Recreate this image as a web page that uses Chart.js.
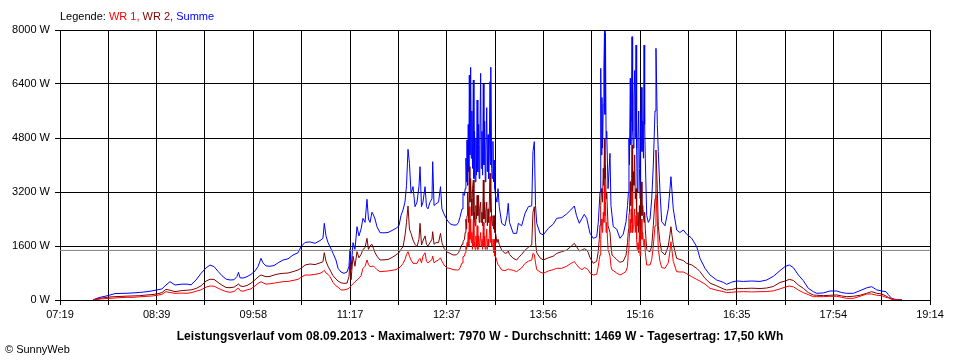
<!DOCTYPE html>
<html><head><meta charset="utf-8">
<script src="https://cdn.jsdelivr.net/npm/chart.js@4/dist/chart.umd.min.js"></script>
<style>
html,body{margin:0;padding:0;background:#fff;}
#wrap{position:relative;width:960px;height:360px;font-family:"Liberation Sans",Arial,sans-serif;font-size:11px;line-height:13px;color:#000;overflow:hidden;}
canvas{position:absolute;left:0;top:0;}
.t{position:absolute;white-space:nowrap;}
</style></head><body>
<div id="wrap">
<canvas id="c" width="960" height="360"></canvas>
<div class="t" style="left:60px;top:10px">Legende: <span style="color:#ff0000">WR 1, </span><span style="color:#800000">WR 2, </span><span style="color:#0000ff">Summe</span></div>
<div class="t" style="left:0;width:960px;text-align:center;top:330px;font-weight:bold;font-size:12px;letter-spacing:0.1px">Leistungsverlauf vom 08.09.2013 - Maximalwert: 7970 W - Durchschnitt: 1469 W - Tagesertrag: 17,50 kWh</div>
<div class="t" style="left:5px;top:343px">© SunnyWeb</div>
</div>
<script>
// x axis range (minutes since midnight) and labels
const xMin = 439, xMax = 1154;
const xTickLabels = ['07:19','08:39','09:58','11:17','12:37','13:56','15:16','16:35','17:54','19:14'];
const yTicksMax = 8000, yStep = 1600;
const average = 1469;

// sample times (minutes since midnight)
const times = [
466.1,468.6,471.9,476.0,480.1,484.2,488.3,494.1,499.0,504.7,510.5,514.6,518.7,522.8,526.1,529.4,533.5,539.3,543.4,546.7,550.8,554.9,559.0,562.3,565.6,568.9,572.1,575.4,578.7,582.0,584.5,585.7,586.9,
589.4,592.7,596.0,599.3,601.7,604.2,605.8,608.3,611.6,614.9,618.2,622.3,626.4,630.5,634.6,637.1,640.4,644.5,648.6,652.7,655.1,656.2,657.6,659.3,660.9,663.4,665.8,667.5,669.9,672.4,674.9,676.5,677.3,678.2,679.8,681.4,683.1,684.7,686.4,688.0,689.7,691.3,692.5,693.8,695.4,696.6,697.9,699.5,702.0,705.3,708.6,711.9,715.1,717.6,719.2,720.9,722.5,723.8,725.0,726.2,727.5,729.1,730.8,732.4,734.0,734.9,736.1,737.3,739.0,740.2,741.4,743.1,744.7,745.3,746.4,748.0,750.1,751.7,752.9,754.6,757.1,759.5,762.0,764.9,766.5,767.7,769.4,770.2,771.4,
772.0,772.6,773.2,773.5,774.0,774.5,775.0,775.4,775.9,776.5,777.0,777.5,778.0,778.7,779.2,779.7,780.2,780.8,781.3,781.8,782.4,783.0,783.5,784.0,784.7,785.2,785.8,786.3,786.9,787.4,788.0,788.5,789.0,789.7,790.2,790.8,791.3,791.8,792.4,792.9,793.2,793.7,794.3,794.8,795.3,795.7,796.3,796.9,
798.1,799.0,800.0,802.0,804.7,806.4,807.4,808.4,811.5,814.3,815.7,818.4,821.2,823.9,826.7,827.7,828.8,829.8,830.8,833.5,836.2,840.3,844.4,847.2,851.3,855.4,858.7,861.7,863.5,865.8,868.0,869.9,871.9,873.2,874.6,877.3,880.1,881.4,882.2,
882.8,883.2,883.6,884.0,884.4,884.9,885.5,886.0,886.5,886.9,887.3,887.8,888.3,889.4,
891.0,891.8,892.7,893.7,896.5,899.2,901.9,904.2,
905.4,906.2,906.6,907.0,907.7,908.1,908.4,908.8,909.1,909.6,910.2,910.7,911.3,911.8,912.4,912.9,913.4,914.0,914.6,915.2,915.7,916.2,916.7,917.3,917.9,918.5,919.0,919.5,920.0,
921.2,922.5,923.9,925.3,926.6,928.0,928.8,929.9,930.7,932.1,933.5,936.2,938.9,940.3,941.1,942.0,943.0,945.8,948.5,951.3,954.0,958.2,962.3,965.0,969.1,973.2,978.7,984.1,986.9,991.0,995.1,1000.6,1007.5,1014.3,1019.8,1025.2,1030.7,1034.8,1038.4,1041.7,1045.8,1049.9,1054.0,1058.1,1060.9,1066.3,1071.8,1077.3,1081.4,1085.5,1091.0,1096.5,1102.0,1106.1,1110.2,1114.3,1117.8,1119.7,1122.5,1125.2,1131.0
];

// Summe (W)
const summe = [
0,40,80,110,148,190,195,200,210,225,247,270,296,330,444,543,444,470,470,450,593,790,950,1037,990,850,720,620,593,600,700,820,660,
650,691,760,860,990,1234,1100,1010,1000,1020,1100,1185,1220,1333,1400,1580,1708,1720,1680,1760,1827,2272,1900,1700,1580,1383,1185,938,830,790,830,1000,1500,900,1700,1500,2173,1900,2100,2420,2300,2983,2400,2300,2600,2519,2400,2173,1995,1990,2000,2060,2123,2200,2500,2667,2900,3400,4464,4049,3160,3358,2765,2900,3358,3950,2765,2900,3358,2765,2700,2900,3000,4099,2800,2850,2900,3358,2700,2550,2370,2260,2222,2222,2300,2450,2700,3160,3100,
3300,4200,3500,4741,3400,5200,3800,6667,4300,6893,4200,5600,3900,6519,3600,5000,3500,4800,3700,5926,3800,5200,3600,4600,6716,3900,5000,3700,6400,4000,5300,3500,4400,5700,3800,4900,3600,4500,6469,4000,6900,3900,3600,4700,3500,4148,3300,3100,
2900,3300,2765,2272,2200,2500,2864,2300,1975,1975,2272,2200,2568,2765,2790,4400,4692,2800,2272,1975,1930,2123,2250,2420,2440,2550,2667,2785,2500,2272,2420,2538,2420,2200,1975,1827,1870,2300,2815,
3210,4500,6864,4300,6000,4500,5800,6900,7970,5500,7900,4800,5000,3300,
4346,2800,2500,2173,2100,1827,1950,2321,
2800,3200,4800,4000,6568,4600,5300,6200,7802,5000,4500,6000,6800,4800,7555,4500,3200,4800,5600,3900,3000,5200,6300,4400,5300,4200,7555,5200,4200,
2500,2300,2400,3000,4000,5600,7457,5200,4400,3210,2321,2200,2700,3300,3654,3200,2700,2074,2000,2074,1950,1827,1580,1234,938,741,593,524,464,530,563,550,563,550,593,700,869,990,1037,960,741,573,346,247,198,210,267,267,220,198,198,277,360,395,300,267,247,160,49,20,0
];

// WR 2 (W)
const wr2 = [
0,20,50,70,90,99,105,115,120,128,150,160,180,220,316,290,247,280,290,300,340,420,560,615,610,520,440,370,365,380,440,480,420,
400,430,500,600,680,741,720,690,700,740,770,790,800,840,889,938,1037,1067,1050,1100,1136,1403,1150,1000,889,720,620,560,510,494,500,700,1100,600,1300,1000,1432,1250,1350,1500,1550,1827,1500,1600,1650,1531,1400,1300,1185,1190,1200,1260,1333,1400,1500,1580,1900,2300,2785,2100,1975,1778,1650,1580,1800,2272,1630,1750,1900,1650,1600,1700,1800,2025,1650,1700,1700,1975,1700,1531,1420,1383,1333,1340,1400,1500,1650,1728,1800,
2000,2400,2100,2500,3200,2700,2300,3950,2900,3600,3000,2500,3300,3555,2300,2600,2200,2800,2400,3100,2500,3100,2300,2700,2900,2300,2600,2200,3555,2400,2900,2300,2600,2900,2200,2700,2300,2800,3753,2600,3200,2400,2200,2500,2100,2500,2000,2000,
1700,1800,1650,1480,1383,1400,1450,1350,1234,1185,1250,1350,1481,1560,1630,2600,2765,1700,1400,1250,1185,1250,1300,1380,1432,1480,1580,1679,1580,1450,1480,1520,1480,1400,1250,1086,1150,1450,1800,
2222,2600,2800,3300,3200,2900,3900,3400,4790,3600,4000,3000,3200,2200,
2000,1600,1333,1300,1200,1116,1150,1330,
1700,2100,2500,2600,3506,2800,3000,3600,4593,3200,3800,3400,4300,3000,3300,2600,2200,2600,2000,2800,1800,3000,3500,2500,2800,2500,2300,2600,2100,
1500,1450,1432,1600,2200,3000,4444,3300,2200,1700,1432,1333,1600,1950,2173,1900,1650,1234,1200,1170,1086,1040,938,840,640,500,420,330,296,310,346,340,350,340,355,400,520,560,612,580,444,346,220,148,140,130,140,150,120,99,110,140,200,247,200,178,120,80,30,10,0
];

// WR 1 (W)
const wr1 = [
0,10,30,40,49,60,70,79,79,95,110,118,140,170,247,220,198,205,200,215,260,300,380,415,410,350,296,250,230,250,330,350,280,
260,300,330,420,490,543,510,470,480,500,520,543,550,580,612,672,741,741,760,790,839,880,800,760,691,520,420,380,296,300,320,350,380,420,480,540,593,640,720,938,1000,1185,1050,988,1000,1007,960,900,839,850,860,880,900,950,1000,1086,1200,1350,1432,1300,1185,1086,1086,1086,1200,1234,1100,1300,1400,1150,1100,1150,1200,1300,1100,1150,1185,1250,1150,1037,950,938,900,889,889,950,1100,1284,1300,
1400,1600,1500,1700,1600,2000,1600,2765,1800,2400,1700,2000,1500,2370,1600,1700,1500,1900,1600,2200,1500,1900,1600,1700,2000,1600,1800,1500,2300,1600,1900,1500,1700,2100,1500,1800,1600,1900,2469,1700,2200,1600,1600,1800,1400,1800,1300,1300,
1150,1050,1000,889,870,900,920,900,880,839,880,950,1086,1150,1185,1383,1350,1100,900,830,790,860,900,938,938,1000,1080,1136,1050,950,900,960,930,890,800,741,760,1000,1200,
1333,1700,1800,2400,2200,2000,2600,2300,3407,2500,2900,2000,2300,1500,
1300,1000,889,870,800,741,790,850,
1000,1500,1700,1900,2400,2000,2700,2300,3210,2000,2200,2400,2700,2000,2500,1800,1500,1700,1400,2000,1300,1900,2400,1800,2000,1700,1600,1800,1400,
1037,1037,1037,1200,1600,2200,3111,2400,1500,1150,960,938,1100,1450,1728,1450,1150,839,830,830,780,691,610,560,470,346,290,250,217,230,240,247,240,247,250,270,330,380,415,390,296,217,160,99,99,99,110,110,80,49,49,110,178,178,140,130,80,60,20,10,0
];

const pts = arr => times.map((t, i) => ({x: t, y: arr[i]}));
const font = {family: '"Liberation Sans", Arial, sans-serif', size: 11};

new Chart(document.getElementById('c'), {
  type: 'line',
  data: {
    datasets: [
      {label: 'Durchschnitt', data: [{x: xMin, y: average}, {x: xMax, y: average}], borderColor: '#808080', order: 0},
      {label: 'WR 1', data: pts(wr1), borderColor: '#ff0000', order: 1},
      {label: 'WR 2', data: pts(wr2), borderColor: '#800000', order: 2},
      {label: 'Summe', data: pts(summe), borderColor: '#0000ff', order: 3}
    ]
  },
  options: {
    responsive: false,
    devicePixelRatio: 1,
    animation: false,
    events: [],
    layout: {padding: {top: 30, right: 30, left: 0, bottom: 0}},
    elements: {
      line: {borderWidth: 1, tension: 0, fill: false, borderCapStyle: 'butt', borderJoinStyle: 'miter'},
      point: {radius: 0, hoverRadius: 0}
    },
    plugins: {legend: {display: false}, tooltip: {enabled: false}, title: {display: false}},
    scales: {
      x: {
        type: 'linear', min: xMin, max: xMax,
        afterFit: s => { s.height = 60; },
        afterBuildTicks: s => {
          const n = (xTickLabels.length - 1) * 2;
          s.ticks = Array.from({length: n + 1}, (_, i) => ({value: xMin + i * (xMax - xMin) / n}));
        },
        grid: {color: '#000', lineWidth: 1, drawTicks: true, tickLength: 5, tickColor: '#000'},
        border: {display: true, color: '#000', width: 1},
        ticks: {
          autoSkip: false, maxRotation: 0, minRotation: 0, padding: 3, color: '#000', font,
          callback: (v, i) => (i % 2 === 0 ? xTickLabels[i / 2] : '')
        }
      },
      y: {
        type: 'linear', min: 0, max: yTicksMax,
        afterFit: s => { s.width = 60; },
        grid: {color: '#000', lineWidth: 1, drawTicks: true, tickLength: 5, tickColor: '#000'},
        border: {display: true, color: '#000', width: 1},
        ticks: {stepSize: yStep, padding: 5, color: '#000', font, callback: v => v + ' W'}
      }
    }
  }
});
</script>
</body></html>
